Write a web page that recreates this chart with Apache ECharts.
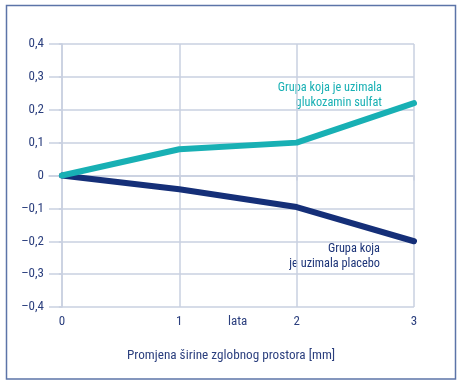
<!DOCTYPE html>
<html>
<head>
<meta charset="utf-8">
<script src="https://cdn.jsdelivr.net/npm/echarts@6/dist/echarts.min.js"></script>
<style>
html,body{margin:0;padding:0;background:#fff;}
#c{width:463px;height:386px;}
</style>
</head>
<body>
<div id="c"></div>
<script>
var xValues = [0, 1, 2, 3];
var glucosamine = [0, 0.08, 0.10, 0.22];
var placebo = [0, -0.042, -0.096, -0.20];
var xTicks = [0, 1, 2, 3];
var yTicks = [-0.4, -0.3, -0.2, -0.1, 0, 0.1, 0.2, 0.3, 0.4];

var FONT = "'Roboto Condensed','Liberation Sans',sans-serif";
var TXT = '#2b3f7e';
var GRID = '#c9d0e0';

function pairs(xs, ys){ return xs.map(function(x,i){return [x, ys[i]];}); }
function fmtY(v){
  var r = Math.round(v*10)/10;
  if (r === 0) return '0';
  var s = Math.abs(r).toFixed(1).replace('.', ',');
  return (r < 0 ? '\u2013' : '') + s;
}

var chart = echarts.init(document.getElementById('c'));
chart.setOption({
  animation: false,
  backgroundColor: '#fff',
  grid: {left: 49, right: 49, top: 44, bottom: 79, containLabel: false},
  xAxis: {
    type: 'value', min: -0.11, max: 3,
    axisLine: {show: true, lineStyle: {color: GRID, width: 1.5}},
    axisTick: {show: true, length: 5, customValues: xTicks, lineStyle: {color: GRID, width: 1.5}},
    axisLabel: {customValues: xTicks, color: TXT, fontFamily: FONT, fontSize: 13, margin: 8,
      formatter: function(v){ return String(Math.round(v)); }},
    splitLine: {show: true, customValues: xTicks, lineStyle: {color: GRID, width: 1.5}}
  },
  yAxis: {
    type: 'value', min: yTicks[0], max: yTicks[yTicks.length - 1], interval: 0.1,
    axisLine: {show: true, lineStyle: {color: GRID, width: 1.5}},
    axisTick: {show: true, length: 3, lineStyle: {color: GRID, width: 1.5}},
    axisLabel: {color: TXT, fontFamily: FONT, fontSize: 13, margin: 5, formatter: fmtY},
    splitLine: {show: true, lineStyle: {color: GRID, width: 1.5}}
  },
  series: [
    {type: 'line', data: pairs(xValues, placebo), symbol: 'none',
     lineStyle: {color: '#152f78', width: 6, cap: 'round', join: 'round'}},
    {type: 'line', data: pairs(xValues, glucosamine), symbol: 'none',
     lineStyle: {color: '#18b0b4', width: 6, cap: 'round', join: 'round'}}
  ],
  graphic: [
    {type: 'rect', shape: {x: 6.5, y: 5.5, width: 449, height: 373.5},
     style: {fill: 'none', stroke: '#5c74a8', lineWidth: 1.5}, silent: true},
    {type: 'text', left: 228, top: 315, style: {text: 'lata', fill: TXT, font: '13px ' + FONT}},
    {type: 'text', left: 127, top: 349, style: {text: 'Promjena širine zglobnog prostora [mm]', fill: TXT, font: '13.2px ' + FONT}},
    {type: 'text', x: 382, y: 80, style: {text: 'Grupa koja je uzimala\nglukozamin sulfat', fill: '#18b0b4', font: '12.3px ' + FONT, align: 'right', lineHeight: 15}},
    {type: 'text', x: 380, y: 241, style: {text: 'Grupa koja\nje uzimala placebo', fill: '#1d3478', font: '12.3px ' + FONT, align: 'right', lineHeight: 15}}
  ]
});
</script>
</body>
</html>
